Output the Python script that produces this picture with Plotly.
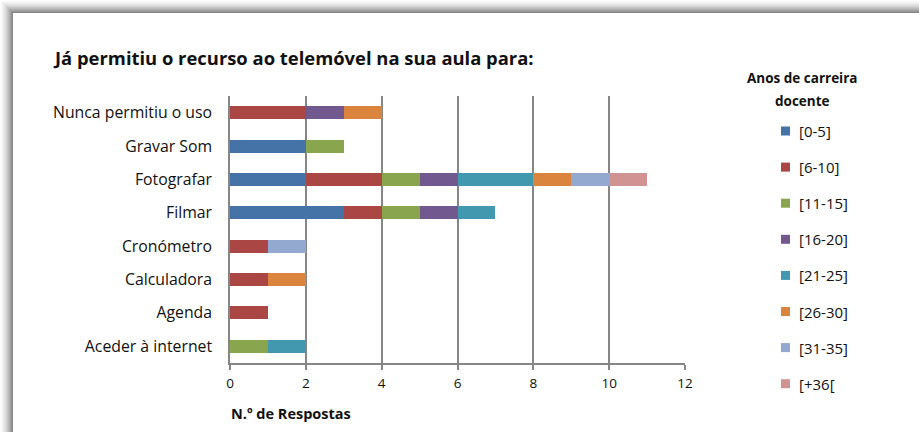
import plotly.graph_objects as go

# Usos do telemóvel (de cima para baixo)
categorias = [
    "Nunca permitiu o uso",
    "Gravar Som",
    "Fotografar",
    "Filmar",
    "Cronómetro",
    "Calculadora",
    "Agenda",
    "Aceder à internet",
]

# Anos de carreira docente
escaloes = ["[0-5]", "[6-10]", "[11-15]", "[16-20]", "[21-25]", "[26-30]", "[31-35]", "[+36["]

# N.º de respostas por escalão, na ordem das categorias
v_0_5 = [0, 2, 2, 3, 0, 0, 0, 0]
v_6_10 = [2, 0, 2, 1, 1, 1, 1, 0]
v_11_15 = [0, 1, 1, 1, 0, 0, 0, 1]
v_16_20 = [1, 0, 1, 1, 0, 0, 0, 0]
v_21_25 = [0, 0, 2, 1, 0, 0, 0, 1]
v_26_30 = [1, 0, 1, 0, 0, 1, 0, 0]
v_31_35 = [0, 0, 1, 0, 1, 0, 0, 0]
v_36 = [0, 0, 1, 0, 0, 0, 0, 0]

series = [v_0_5, v_6_10, v_11_15, v_16_20, v_21_25, v_26_30, v_31_35, v_36]
cores = ["#4572A7", "#AA4643", "#89A54E", "#71588F", "#4198AF", "#DB843D", "#93A9CF", "#D19392"]

W, H = 919, 432
L, R, T, B = 230, 685, 96, 363  # área do gráfico em píxeis


def px(x):
    return (x - L) / (R - L)


def py(y):
    return (B - y) / (B - T)


FONT = "Open Sans"
TXT = "#111111"
GRID = "#868686"

fig = go.Figure()
for nome, vals, cor in zip(escaloes, series, cores):
    fig.add_trace(go.Bar(
        y=categorias,
        x=vals,
        name=nome,
        orientation="h",
        marker=dict(color=cor, line=dict(width=0)),
        showlegend=False,
    ))

shapes = []
# Sombra do contorno do gráfico (faixas em degradê)
n = 13
for i in range(n):
    g = int(255 - (255 - 135) * ((i + 1) / n) ** 1.6)
    c = f"rgb({g},{g},{g})"
    shapes.append(dict(type="rect", xref="paper", yref="paper",
                       x0=px(i), x1=px(W + 5), y0=py(i + 1), y1=py(i),
                       fillcolor=c, line=dict(width=0), layer="below"))
    shapes.append(dict(type="rect", xref="paper", yref="paper",
                       x0=px(i), x1=px(i + 1), y0=py(H + 5), y1=py(i),
                       fillcolor=c, line=dict(width=0), layer="below"))
shapes.append(dict(type="rect", xref="paper", yref="paper",
                   x0=px(n), x1=px(W + 5), y0=py(H + 5), y1=py(n + 1),
                   fillcolor="white", line=dict(width=0), layer="below"))

annotations = [
    dict(text="<b>Já permitiu o recurso ao telemóvel na sua aula para:</b>",
         x=px(51), y=py(57), xref="paper", yref="paper",
         xanchor="left", yanchor="middle", showarrow=False,
         font=dict(family=FONT, size=18.4, color=TXT)),
    dict(text="<b>Anos de carreira</b>",
         x=px(802), y=py(78), xref="paper", yref="paper",
         xanchor="center", yanchor="middle", showarrow=False,
         font=dict(family=FONT, size=13.5, color=TXT)),
    dict(text="<b>docente</b>",
         x=px(802), y=py(101), xref="paper", yref="paper",
         xanchor="center", yanchor="middle", showarrow=False,
         font=dict(family=FONT, size=13.5, color=TXT)),
    dict(text="<b>N.º de Respostas</b>",
         x=px(229), y=py(413), xref="paper", yref="paper",
         xanchor="left", yanchor="middle", showarrow=False,
         font=dict(family=FONT, size=14.5, color=TXT)),
]

# Legenda: quadrado de cor + texto de cada escalão
leg_y0, leg_dy = 131, 36.1
for i, (nome, cor) in enumerate(zip(escaloes, cores)):
    yc = leg_y0 + i * leg_dy
    shapes.append(dict(type="rect", xref="paper", yref="paper",
                       x0=px(781), x1=px(790), y0=py(yc + 4.5), y1=py(yc - 4.5),
                       fillcolor=cor, line=dict(width=0)))
    annotations.append(dict(text=nome, x=px(797), y=py(yc), xref="paper", yref="paper",
                            xanchor="left", yanchor="middle", showarrow=False,
                            font=dict(family=FONT, size=15, color=TXT)))

fig.update_layout(
    width=W, height=H,
    margin=dict(l=L, r=W - R, t=T, b=H - B, pad=0),
    paper_bgcolor="white",
    plot_bgcolor="white",
    barmode="stack",
    bargap=0.61,
    font=dict(family=FONT, size=14, color=TXT),
    shapes=shapes,
    annotations=annotations,
    showlegend=False,
    xaxis=dict(
        range=[0, 12], dtick=2, tick0=0,
        showgrid=True, gridcolor=GRID, gridwidth=1.5,
        showline=True, linecolor=GRID, linewidth=1.5,
        ticks="outside", ticklen=5, tickcolor=GRID, tickwidth=1.5,
        ticklabelstandoff=2,
        tickfont=dict(family=FONT, size=13.5, color=TXT),
        zeroline=False, fixedrange=True,
    ),
    yaxis=dict(
        autorange="reversed",
        showgrid=False, zeroline=False,
        showline=True, linecolor=GRID, linewidth=1.5,
        ticks="", ticklabelstandoff=13,
        tickfont=dict(family=FONT, size=15.8, color=TXT),
        fixedrange=True,
    ),
)

fig.write_html("out.html")
